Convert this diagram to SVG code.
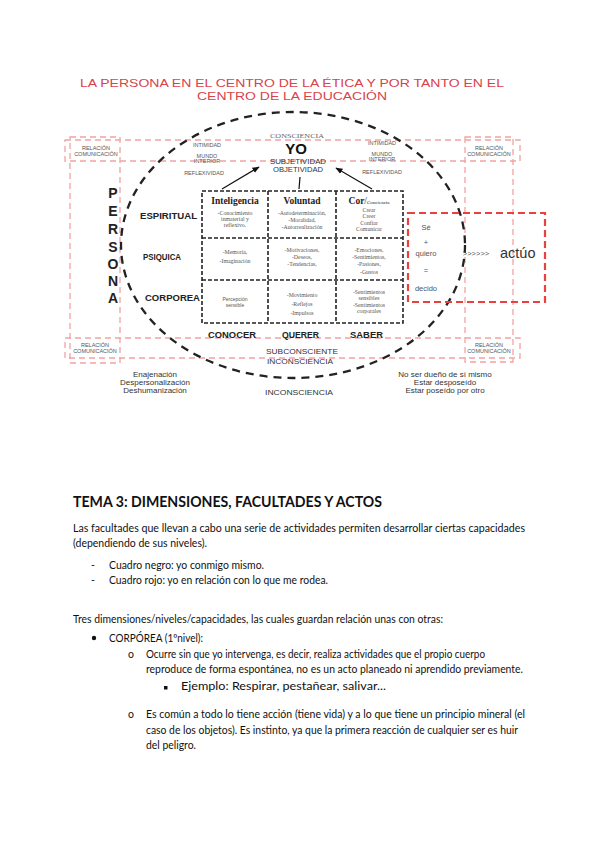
<svg xmlns="http://www.w3.org/2000/svg" width="599" height="848" viewBox="0 0 599 848">
<defs>
<marker id="ah" viewBox="0 0 10 10" refX="9" refY="5" markerWidth="6" markerHeight="6" orient="auto"><path d="M0,1 L10,5 L0,9 z" fill="#111"/></marker>
<style>
.title{font-family:"Liberation Sans",Arial,sans-serif;font-size:11px;fill:#d8434b;text-anchor:middle}
.pink{fill:none;stroke:#f2a3a3;stroke-width:1.3;stroke-dasharray:6 4}
.grid{fill:none;stroke:#222;stroke-width:1.6;stroke-dasharray:4 2}
.sm{font-family:"Liberation Sans",Arial,sans-serif;font-size:5.5px;fill:#555;text-anchor:middle}
.lab{font-family:"Liberation Sans",Arial,sans-serif;font-weight:bold;font-size:8.5px;fill:#222}
.per{font-family:"Liberation Sans",Arial,sans-serif;font-weight:bold;font-size:14px;fill:#222;text-anchor:middle}
.hd{font-family:"Liberation Serif","Times New Roman",serif;font-weight:bold;font-size:9.5px;fill:#222;text-anchor:middle}
.cell{font-family:"Liberation Serif","Times New Roman",serif;font-size:5.8px;fill:#555;text-anchor:middle}
.cells{font-family:"Liberation Sans",Arial,sans-serif;font-size:5px;fill:#555;text-anchor:middle}
.mid{font-family:"Liberation Sans",Arial,sans-serif;font-size:8px;fill:#333;text-anchor:middle}
.red{font-family:"Liberation Sans",Arial,sans-serif;font-size:7.5px;fill:#555;text-anchor:middle}
.body{font-family:Lato,"Liberation Sans",sans-serif;font-size:10.5px;fill:#111}
.h1{font-family:Lato,"Liberation Sans",sans-serif;font-size:16px;font-weight:bold;fill:#111}
</style>
</defs>

<g id="title">
<text class="title" x="292" y="87" textLength="424" lengthAdjust="spacingAndGlyphs">LA PERSONA EN EL CENTRO DE LA ÉTICA Y POR TANTO EN EL</text>
<text class="title" x="292" y="100" textLength="190" lengthAdjust="spacingAndGlyphs">CENTRO DE LA EDUCACIÓN</text>
</g>

<g id="relation-frames">
<rect class="pink" x="65" y="140" width="455" height="21"/>
<rect class="pink" x="65" y="338" width="455" height="20"/>
<rect class="pink" x="70" y="137" width="50" height="226"/>
<rect class="pink" x="465" y="137" width="48" height="225"/>
</g>

<g id="ellipse">
<ellipse cx="293" cy="245" rx="172" ry="133" fill="none" stroke="#222" stroke-width="2.3" stroke-dasharray="8 6"/>
</g>

<g id="relacion-labels">
<text class="sm" x="96" y="150">RELACIÓN</text><text class="sm" x="96" y="156">COMUNICACIÓN</text>
<text class="sm" x="489" y="150">RELACIÓN</text><text class="sm" x="489" y="156">COMUNICACIÓN</text>
<text class="sm" x="95" y="347">RELACIÓN</text><text class="sm" x="95" y="353">COMUNICACIÓN</text>
<text class="sm" x="489" y="347">RELACIÓN</text><text class="sm" x="489" y="353">COMUNICACIÓN</text>
</g>

<g id="left-inner-labels">
<text class="sm" x="207" y="147">INTIMIDAD</text>
<text class="sm" x="207" y="158">MUNDO</text>
<text class="sm" x="207" y="163">INTERIOR</text>
<text class="sm" x="204" y="175">REFLEXIVIDAD</text>
</g>
<g id="right-inner-labels">
<text class="sm" x="382" y="145">INTIMIDAD</text>
<text class="sm" x="382" y="156">MUNDO</text>
<text class="sm" x="382" y="161">INTERIOR</text>
<text class="sm" x="382" y="174">REFLEXIVIDAD</text>
</g>

<g id="yo">
<text x="297" y="138" font-family="Liberation Serif,serif" font-size="6.5px" fill="#666" text-anchor="middle" textLength="54" lengthAdjust="spacingAndGlyphs">CONSCIENCIA</text>
<text x="296" y="154" font-family="Liberation Sans,Arial,sans-serif" font-weight="bold" font-size="15px" fill="#111" text-anchor="middle">YO</text>
<text class="mid" x="298" y="164" textLength="56" lengthAdjust="spacingAndGlyphs">SUBJETIVIDAD</text>
<text class="mid" x="298" y="172" textLength="50" lengthAdjust="spacingAndGlyphs">OBJETIVIDAD</text>
</g>

<g id="connectors" stroke="#111" stroke-width="1.2" fill="none">
<line x1="222" y1="189" x2="259" y2="167" marker-end="url(#ah)"/>
<line x1="372" y1="189" x2="336" y2="168" marker-end="url(#ah)"/>
<line x1="300" y1="177" x2="299" y2="189"/>
</g>

<g id="persona">
<text class="per" x="113" y="198">P</text>
<text class="per" x="113" y="216">E</text>
<text class="per" x="113" y="234">R</text>
<text class="per" x="113" y="252">S</text>
<text class="per" x="113" y="269">O</text>
<text class="per" x="113" y="286">N</text>
<text class="per" x="113" y="303">A</text>
</g>

<g id="row-labels">
<text class="lab" x="140" y="219" textLength="57" lengthAdjust="spacingAndGlyphs">ESPIRITUAL</text>
<text class="lab" x="143" y="260" textLength="38" lengthAdjust="spacingAndGlyphs">PSIQUICA</text>
<text class="lab" x="145" y="301" textLength="55" lengthAdjust="spacingAndGlyphs">CORPOREA</text>
</g>

<g id="grid">
<rect class="grid" x="202" y="191" width="201" height="132"/>
<line class="grid" x1="268" y1="191" x2="268" y2="323"/>
<line class="grid" x1="336" y1="191" x2="336" y2="323"/>
<line class="grid" x1="202" y1="238" x2="403" y2="238"/>
<line class="grid" x1="202" y1="280" x2="403" y2="280"/>
</g>

<g id="headers">
<text class="hd" x="235" y="204">Inteligencia</text>
<text class="hd" x="302" y="204">Voluntad</text>
<text class="hd" x="369" y="204">Cor<tspan font-weight="normal">/</tspan><tspan font-weight="normal" font-size="5px">Conciencia</tspan></text>
</g>

<g id="cells">
<text class="cell" x="235" y="215">-Conocimiento</text>
<text class="cell" x="235" y="221">inmaterial y</text>
<text class="cell" x="235" y="227">reflexivo.</text>
<text class="cell" x="302" y="215">-Autodeterminación,</text>
<text class="cell" x="302" y="222">-Moralidad,</text>
<text class="cell" x="302" y="229">-Autorrealización</text>
<text class="cell" x="369" y="212">Crear</text>
<text class="cell" x="369" y="218">Creer</text>
<text class="cell" x="369" y="225">Confiar</text>
<text class="cell" x="369" y="231">Comunicar</text>

<text class="cell" x="235" y="254">-Memoria,</text>
<text class="cell" x="235" y="263">-Imaginación</text>
<text class="cell" x="302" y="252">-Motivaciones,</text>
<text class="cell" x="302" y="259">-Deseos,</text>
<text class="cell" x="302" y="266">-Tendencias,</text>
<text class="cell" x="369" y="252">-Emociones,</text>
<text class="cell" x="369" y="259">-Sentimientos,</text>
<text class="cell" x="369" y="266">-Pasiones,</text>
<text class="cell" x="369" y="274">-Gustos</text>

<text class="cells" x="235" y="301">Percepción</text>
<text class="cells" x="235" y="307">sensible</text>
<text class="cell" x="302" y="297">-Movimiento</text>
<text class="cell" x="302" y="306">-Reflejos</text>
<text class="cell" x="302" y="315">-Impulsos</text>
<text class="cell" x="369" y="294">-Sentimientos</text>
<text class="cell" x="369" y="300">sensibles</text>
<text class="cell" x="369" y="307">-Sentimientos</text>
<text class="cell" x="369" y="313">corporales</text>
</g>

<g id="acts">
<text class="lab" x="208" y="338" textLength="48" lengthAdjust="spacingAndGlyphs">CONOCER</text>
<text class="lab" x="282" y="338" textLength="37" lengthAdjust="spacingAndGlyphs">QUERER</text>
<text class="lab" x="350" y="338" textLength="33" lengthAdjust="spacingAndGlyphs">SABER</text>
</g>

<g id="subconsciente">
<text class="mid" x="302" y="354" textLength="72" lengthAdjust="spacingAndGlyphs">SUBCONSCIENTE</text>
<text class="mid" x="300" y="364" textLength="66" lengthAdjust="spacingAndGlyphs">INCONSCIENCIA</text>
<text class="mid" x="299" y="395" textLength="68" lengthAdjust="spacingAndGlyphs">INCONSCIENCIA</text>
</g>

<g id="left-bottom">
<text class="mid" x="155" y="377">Enajenación</text>
<text class="mid" x="155" y="385">Despersonalización</text>
<text class="mid" x="155" y="393">Deshumanización</text>
</g>
<g id="right-bottom">
<text class="mid" x="445" y="377">No ser dueño de sí mismo</text>
<text class="mid" x="445" y="385">Estar desposeído</text>
<text class="mid" x="445" y="393">Estar poseído por otro</text>
</g>

<g id="decision">
<rect x="408" y="213" width="137" height="89" fill="none" stroke="#e8413f" stroke-width="2.2" stroke-dasharray="7 4"/>
<text class="red" x="426" y="230">Sé</text>
<text class="red" x="426" y="245">+</text>
<text class="red" x="426" y="256">quiero</text>
<text class="red" x="426" y="273">=</text>
<text class="red" x="426" y="291">decido</text>
<text class="red" x="476" y="256">&gt;&gt;&gt;&gt;&gt;&gt;</text>
<text x="500" y="258" font-family="Liberation Sans,Arial,sans-serif" font-size="14.5px" fill="#333">actúo</text>
</g>

<g id="text-section">
<text class="h1" x="73" y="507" textLength="309" lengthAdjust="spacingAndGlyphs">TEMA 3: DIMENSIONES, FACULTADES Y ACTOS</text>
<text class="body" x="73" y="532" textLength="452" lengthAdjust="spacingAndGlyphs">Las facultades que llevan a cabo una serie de actividades permiten desarrollar ciertas capacidades</text>
<text class="body" x="73" y="547" textLength="134" lengthAdjust="spacingAndGlyphs">(dependiendo de sus niveles).</text>
<text class="body" x="91" y="569">-</text>
<text class="body" x="109" y="569" textLength="155" lengthAdjust="spacingAndGlyphs">Cuadro negro: yo conmigo mismo.</text>
<text class="body" x="91" y="584">-</text>
<text class="body" x="109" y="584" textLength="219" lengthAdjust="spacingAndGlyphs">Cuadro rojo: yo en relación con lo que me rodea.</text>
<text class="body" x="73" y="623" textLength="370" lengthAdjust="spacingAndGlyphs">Tres dimensiones/niveles/capacidades, las cuales guardan relación unas con otras:</text>
<circle cx="94" cy="638" r="2.2" fill="#111"/>
<text class="body" x="109" y="642" textLength="94" lengthAdjust="spacingAndGlyphs">CORPÓREA (1ºnivel):</text>
<text class="body" x="128" y="658">o</text>
<text class="body" x="146" y="658" textLength="339" lengthAdjust="spacingAndGlyphs">Ocurre sin que yo intervenga, es decir, realiza actividades que el propio cuerpo</text>
<text class="body" x="146" y="673" textLength="377" lengthAdjust="spacingAndGlyphs">reproduce de forma espontánea, no es un acto planeado ni aprendido previamente.</text>
<rect x="164" y="686" width="3.5" height="3.5" fill="#111"/>
<text class="body" x="181" y="690" textLength="205" lengthAdjust="spacingAndGlyphs">Ejemplo: Respirar, pestañear, salivar...</text>
<text class="body" x="128" y="718">o</text>
<text class="body" x="146" y="718" textLength="379" lengthAdjust="spacingAndGlyphs">Es común a todo lo tiene acción (tiene vida) y a lo que tiene un principio mineral (el</text>
<text class="body" x="146" y="734" textLength="372" lengthAdjust="spacingAndGlyphs">caso de los objetos). Es instinto, ya que la primera reacción de cualquier ser es huir</text>
<text class="body" x="146" y="749" textLength="50" lengthAdjust="spacingAndGlyphs">del peligro.</text>
</g>
</svg>
